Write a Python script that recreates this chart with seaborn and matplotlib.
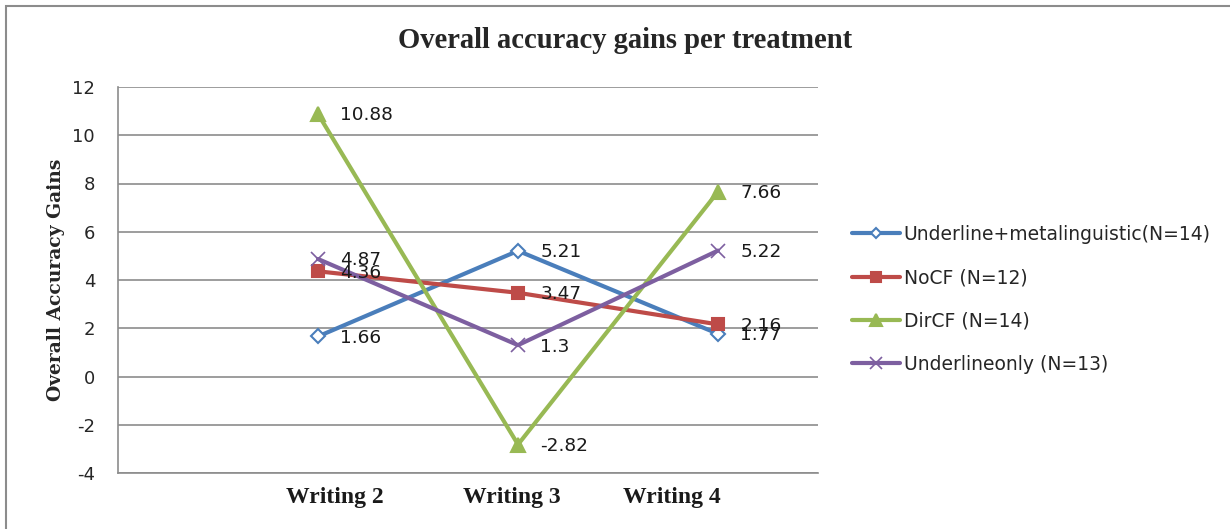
import matplotlib
matplotlib.use("Agg")
import matplotlib.pyplot as plt
import matplotlib.transforms as mtransforms
import seaborn as sns
import pandas as pd
from matplotlib.lines import Line2D
from matplotlib.patches import Rectangle

categories = ["Writing 2", "Writing 3", "Writing 4"]
series_names = ["Underline+metalinguistic(N=14)", "NoCF (N=12)", "DirCF (N=14)", "Underlineonly (N=13)"]
underline_meta = [1.66, 5.21, 1.77]
nocf = [4.36, 3.47, 2.16]
dircf = [10.88, -2.82, 7.66]
underline_only = [4.87, 1.3, 5.22]
yticks = [-4, -2, 0, 2, 4, 6, 8, 10, 12]

all_values = [underline_meta, nocf, dircf, underline_only]
colors = ["#4A7EBB", "#BE4B48", "#98B954", "#7D5FA0"]
markers = ["D", "s", "^", "x"]
mfc = ["white", "#BE4B48", "#98B954", "#7D5FA0"]
msizes = [7, 9, 10, 10]
label_shift_px = [17, -6, -46]  # horizontal shift of category labels as in the reference

rows = []
for name, vals in zip(series_names, all_values):
    for i, (c, v) in enumerate(zip(categories, vals)):
        rows.append({"series": name, "pos": i, "cat": c, "value": v})
df = pd.DataFrame(rows)

sns.set_theme(style="white")
plt.rcParams["font.family"] = ["DejaVu Sans"]

fig = plt.figure(figsize=(12.3, 5.29), dpi=100)
ax = fig.add_axes([118/1230, 1-473/529, 700/1230, (473-87)/529])

for name, col, mk, fc, ms in zip(series_names, colors, markers, mfc, msizes):
    sub = df[df["series"] == name]
    sns.lineplot(data=sub, x="pos", y="value", ax=ax, color=col, linewidth=3,
                 marker=mk, markersize=ms, markerfacecolor=fc, markeredgecolor=col,
                 markeredgewidth=1.5 if mk != "x" else 1.2, legend=False, zorder=3)
    for _, r in sub.iterrows():
        ax.annotate(f"{r['value']:g}", (r["pos"], r["value"]), xytext=(16, -1),
                    textcoords="offset points", ha="left", va="center",
                    fontsize=13.3, color="#1a1a1a", zorder=4)

ax.set_xlim(-1, 2.5)
ax.set_ylim(-4, 12)
ax.set_yticks(yticks)
ax.set_yticklabels([str(t) for t in yticks], fontsize=13)
ax.set_xticks(range(len(categories)))
ax.set_xticklabels([""] * len(categories))
base = ax.get_xaxis_transform()
for i, (cat, dx) in enumerate(zip(categories, label_shift_px)):
    tr = base + mtransforms.ScaledTranslation(dx / 100, -24 / 100, fig.dpi_scale_trans)
    ax.text(i, 0, cat, transform=tr, ha="center", va="center", fontsize=17,
            fontweight="bold", family="Liberation Serif", color="#1a1a1a")
ax.tick_params(axis="both", length=0)
ax.tick_params(axis="y", pad=16.5)
ax.grid(axis="y", color="#8c8c8c", linewidth=1.2)
ax.set_axisbelow(True)
for s in ["top", "right"]:
    ax.spines[s].set_visible(False)
for s in ["left", "bottom"]:
    ax.spines[s].set_color("#8c8c8c")
    ax.spines[s].set_linewidth(1.2)
ax.set_xlabel("")
ax.set_ylabel("Overall Accuracy Gains", fontsize=13.5, fontweight="bold", family="DejaVu Serif", labelpad=5)

fig.text(625/1230, 1-41/529, "Overall accuracy gains per treatment", ha="center", va="center",
         fontsize=20.6, fontweight="bold", family="Liberation Serif")

handles = [Line2D([0], [0], color=c, linewidth=3, marker=m, markersize=ms * 0.8, markerfacecolor=fc,
                  markeredgecolor=c, markeredgewidth=1.5 if m != "x" else 1.2)
           for c, m, fc, ms in zip(colors, markers, mfc, msizes)]
fig.legend(handles, series_names, loc="upper left", bbox_to_anchor=(852/1230, 1-225/529),
           frameon=False, fontsize=13.5, handlelength=2.56, handletextpad=0.2, labelspacing=1.29,
           borderaxespad=0, borderpad=0)

fig.patches.append(Rectangle((6/1230, -0.2), 1.2, 1.2 - 6/529, transform=fig.transFigure,
                             fill=False, edgecolor="#8c8c8c", linewidth=1.5))

fig.savefig("out.png", dpi=100)
